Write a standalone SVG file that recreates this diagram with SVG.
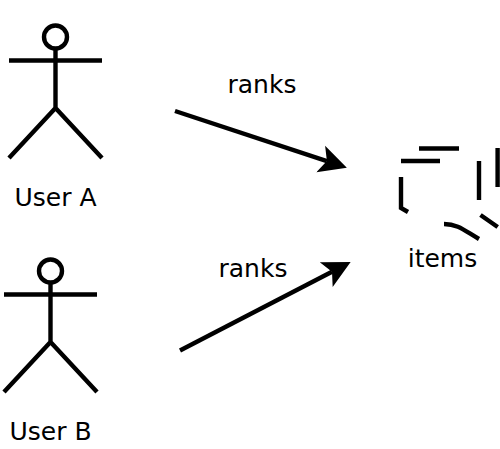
<svg xmlns="http://www.w3.org/2000/svg" width="500" height="449" viewBox="0 0 500 449">
<style>
.s{fill:none;stroke:#000;stroke-width:4.4}
.t{font-family:"DejaVu Sans",sans-serif;font-size:25px;fill:#000;text-anchor:middle}
</style>
<defs>
<marker id="arrow" markerUnits="userSpaceOnUse" markerWidth="30" markerHeight="32" viewBox="0 -16 30 32" refX="6.5" refY="0" orient="auto">
<path d="M27.5 0L0 -14L6.5 0L0 14Z" fill="#000"/>
</marker>
<g id="actor">
<circle class="s" cx="55.5" cy="37" r="11.5"/>
<path class="s" d="M55.5 49V108M9 60.5H102M9 158L55.5 108L102 158"/>
</g>
</defs>
<rect width="500" height="449" fill="#fff"/>
<g id="connectors">
<path class="s" d="M175 111L326.9 161.1" marker-end="url(#arrow)"/>
<path class="s" d="M180 350.5L332 271.7" marker-end="url(#arrow)"/>
<text class="t" x="262" y="93">ranks</text>
<text class="t" x="253" y="277">ranks</text>
</g>
<g id="user-a">
<use href="#actor"/>
<text class="t" x="55.5" y="206">User A</text>
</g>
<g id="user-b">
<use href="#actor" x="-5" y="234"/>
<text class="t" x="50.5" y="440">User B</text>
</g>
<g id="items">
<path class="s" d="M419 148.5H459M401 161H440M401 177V208L408 212M479 161V200M497.6 148V187M480.5 215L497.7 227M444 224C458 224 465 231 479 239"/>
<text class="t" x="442.5" y="267">items</text>
</g>
</svg>
